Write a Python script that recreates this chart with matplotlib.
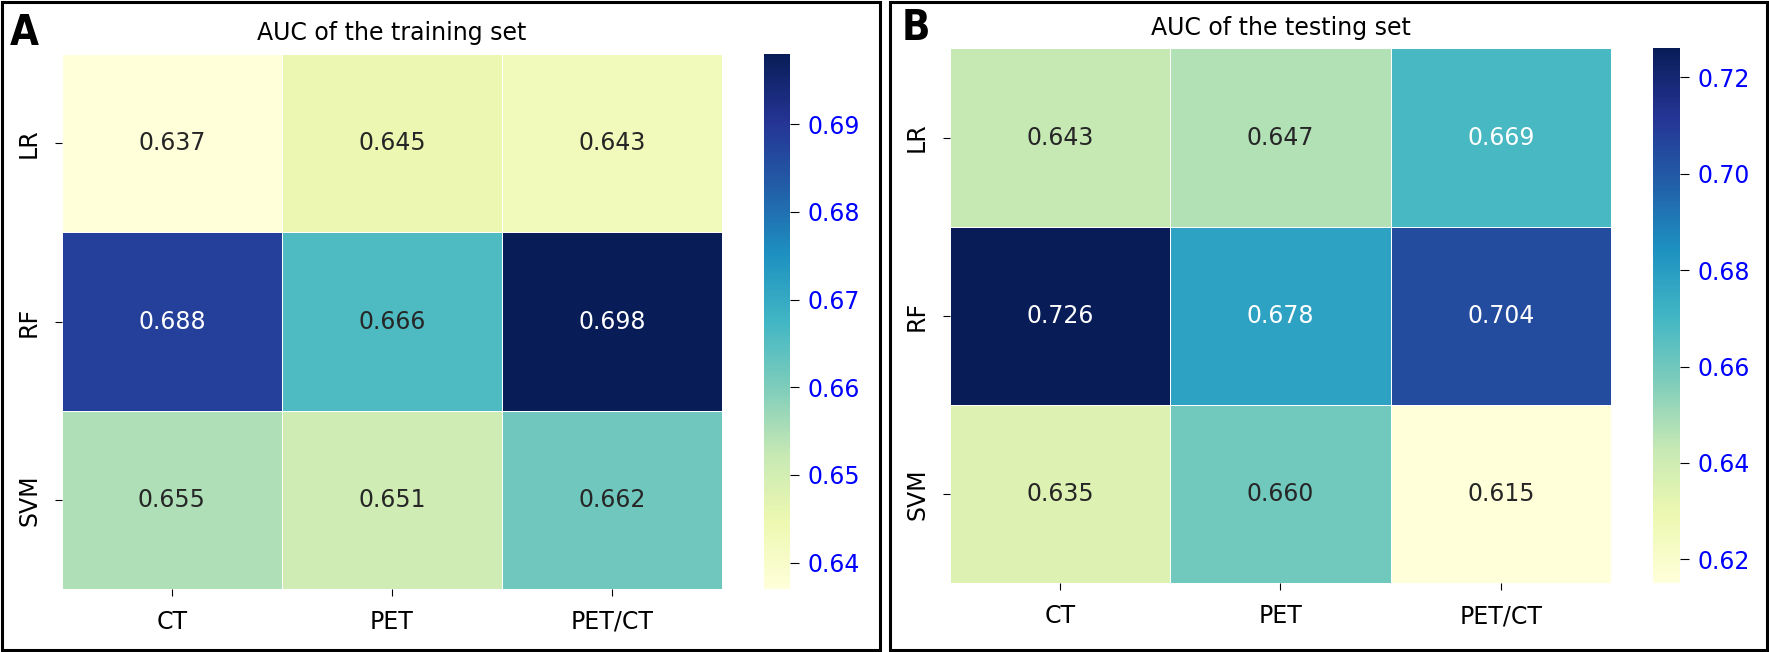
import matplotlib
matplotlib.use('Agg')
import numpy as np
import matplotlib.pyplot as plt
import seaborn as sns
from matplotlib.patches import Rectangle

models = ['LR', 'RF', 'SVM']
modalities = ['CT', 'PET', 'PET/CT']
auc_train = [[0.637, 0.645, 0.643],
             [0.688, 0.666, 0.698],
             [0.655, 0.651, 0.662]]
auc_test = [[0.643, 0.647, 0.669],
            [0.726, 0.678, 0.704],
            [0.635, 0.660, 0.615]]

FS = 17

fig = plt.figure(figsize=(17.69, 6.52), dpi=100)

def panel(data, title, hm_box, cb_box, letter, letter_xy):
    ax = fig.add_axes(hm_box)
    cax = fig.add_axes(cb_box)
    sns.heatmap(np.array(data), ax=ax, cbar_ax=cax, cmap='YlGnBu', annot=True,
                fmt='.3f', linewidths=0.5, linecolor='white',
                annot_kws={'size': FS},
                xticklabels=modalities, yticklabels=models)
    ax.set_title(title, fontsize=FS, pad=10)
    ax.tick_params(axis='both', labelsize=FS, length=5, pad=10)
    plt.setp(ax.get_yticklabels(), rotation=90, va='center')
    plt.setp(ax.get_xticklabels(), rotation=0)
    cax.tick_params(labelsize=FS, labelcolor='blue', length=6.5, pad=6)
    fig.text(letter_xy[0], letter_xy[1], letter, fontsize=30, fontweight='bold',
             fontstretch='condensed', ha='left', va='top')

panel(auc_train, 'AUC of the training set',
      [0.0350, 0.0966, 0.3731, 0.8206], [0.4319, 0.0966, 0.0147, 0.8206],
      'A', (0.0055, 0.982))
panel(auc_test, 'AUC of the testing set',
      [0.5370, 0.1051, 0.3737, 0.8206], [0.9344, 0.1051, 0.0153, 0.8206],
      'B', (0.5095, 0.989))

# panel frames
fig.patches.append(Rectangle((0.0012, 0.003), 0.4962, 0.994, transform=fig.transFigure,
                             fill=False, edgecolor='black', linewidth=2.2))
fig.patches.append(Rectangle((0.5030, 0.003), 0.4956, 0.994, transform=fig.transFigure,
                             fill=False, edgecolor='black', linewidth=2.2))

plt.savefig('out.png', dpi=100)
